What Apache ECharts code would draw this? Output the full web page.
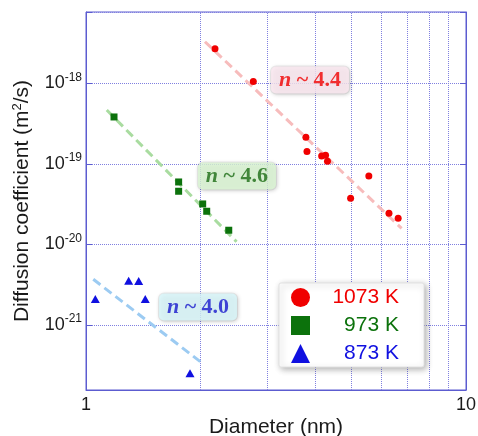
<!DOCTYPE html>
<html style="height: 100%">
<head>
<meta charset="utf-8">
<script src="https://cdn.jsdelivr.net/npm/echarts@6/dist/echarts.min.js"></script>
</head>
<body style="height: 100%; margin: 0; background: #fff">
<div id="container" style="width: 478px; height: 436px"></div>
<script type="text/javascript">
// measured points, diameter (nm) vs diffusion coefficient (m2/s)
var x1073 = [2.185, 2.756, 3.79, 3.815, 4.17, 4.27, 4.32, 5.55, 4.97, 6.27, 6.63];
var y1073 = [2.68e-18, 1.05e-18, 2.14e-19, 1.42e-19, 1.25e-19, 1.28e-19, 1.08e-19, 7.08e-20, 3.74e-20, 2.43e-20, 2.11e-20];
var x973 = [1.185, 1.753, 1.753, 2.028, 2.078, 2.375];
var y973 = [3.82e-19, 5.96e-20, 4.57e-20, 3.18e-20, 2.58e-20, 1.5e-20];
var x873 = [1.058, 1.295, 1.376, 1.432, 1.878];
var y873 = [2.1e-21, 3.55e-21, 3.52e-21, 2.1e-21, 2.51e-22];

// fitted power-law lines (end points)
var fit1073 = [[2.056, 3.28e-18], [6.77, 1.58e-20]];
var fit973 = [[1.134, 4.66e-19], [2.49, 1.08e-20]];
var fit873 = [[1.045, 3.69e-21], [2.036, 3.28e-22]];

var names = ['1073 K', '973 K', '873 K'];
var slopes = ['4.4', '4.6', '4.0'];
var minorX = [2, 3, 4, 5, 6, 7, 8, 9];

var yMin = Math.pow(10, -21.807);
var yMax = Math.pow(10, -17.115);

function zip(xs, ys) {
    return xs.map(function (x, i) { return [x, ys[i]]; });
}

var dom = document.getElementById('container');
var myChart = echarts.init(dom, null, {renderer: 'canvas'});

var frame = '#5c5cd0';
var grid = '#8080e0';
var sans = 'Liberation Sans';
var serif = 'Liberation Serif';

function fitSeries(data, color, extra) {
    return Object.assign({
        type: 'line',
        data: data,
        symbol: 'none',
        silent: true,
        z: 2,
        lineStyle: {color: color, width: 3, type: [9, 5]}
    }, extra || {});
}

function noteSeries(pos, text, color, bg) {
    return {
        type: 'scatter',
        data: [pos],
        symbolSize: 0,
        silent: true,
        z: 5,
        label: {
            show: true,
            position: 'inside',
            formatter: '{i|n}{r| ~ ' + text + '}',
            backgroundColor: bg,
            padding: [3, 8, 2, 8],
            borderRadius: 5,
            borderColor: 'rgba(0,0,0,0.08)',
            borderWidth: 1,
            shadowBlur: 4,
            shadowColor: 'rgba(0,0,0,0.25)',
            shadowOffsetX: 1,
            shadowOffsetY: 1,
            rich: {
                i: {fontFamily: serif, fontStyle: 'italic', fontWeight: 'bold', fontSize: 22, color: color, lineHeight: 22},
                r: {fontFamily: serif, fontWeight: 'bold', fontSize: 22, color: color, lineHeight: 22}
            }
        }
    };
}

var yAxisBase = {
    type: 'log',
    min: yMin,
    max: yMax,
    axisLine: {show: true, lineStyle: {color: frame, width: 1}},
    axisTick: {show: true, inside: true, length: 6, lineStyle: {color: frame}},
    minorTick: {show: false},
    minorSplitLine: {show: false}
};

option = {
    backgroundColor: '#fff',
    animation: false,
    grid: {
        left: 86, right: 12, top: 12, bottom: 46,
        containLabel: false,
        outerBoundsMode: 'none',
        show: true, borderColor: frame, borderWidth: 1
    },
    legend: {
        orient: 'vertical',
        left: 279,
        top: 283,
        padding: [4, 25, 3, 12],
        itemWidth: 19,
        itemHeight: 19,
        itemGap: 7,
        backgroundColor: '#fff',
        borderColor: '#e2e2e2',
        borderWidth: 1,
        borderRadius: 2,
        shadowBlur: 6,
        shadowColor: 'rgba(0,0,0,0.3)',
        shadowOffsetX: 2,
        shadowOffsetY: 2,
        formatter: function (name) { return '{a|' + name + '}'; },
        textStyle: {
            fontFamily: sans, fontSize: 21,
            rich: {a: {width: 84, align: 'right', fontFamily: sans, fontSize: 21}}
        },
        data: [
            {name: names[0], icon: 'circle', textStyle: {color: '#f00000'}},
            {name: names[1], icon: 'rect', textStyle: {color: '#0c720c'}},
            {name: names[2], icon: 'triangle', textStyle: {color: '#1010e0'}}
        ]
    },
    xAxis: {
        type: 'log',
        min: 1,
        max: 10,
        name: 'Diameter (nm)',
        nameLocation: 'middle',
        nameGap: 27,
        nameMoveOverlap: false,
        nameTextStyle: {fontFamily: sans, fontSize: 21, color: '#1a1a1a'},
        axisLine: {show: true, lineStyle: {color: frame, width: 1}},
        axisTick: {show: false},
        axisLabel: {
            fontFamily: sans, fontSize: 18, color: '#1a1a1a', margin: 6,
            formatter: function (v) { return String(Math.round(v)); }
        },
        splitLine: {show: false},
        minorTick: {show: false},
        minorSplitLine: {show: false}
    },
    yAxis: [
        Object.assign({}, yAxisBase, {
            position: 'left',
            name: 'Diffusion coefficient (m{s|2}/s)',
            nameLocation: 'middle',
            nameGap: 52,
            nameMoveOverlap: false,
            nameTextStyle: {
                fontFamily: sans, fontSize: 21, color: '#1a1a1a',
                rich: {s: {fontFamily: sans, fontSize: 13, color: '#1a1a1a', padding: [0, 0, 10, 0]}}
            },
            axisLabel: {
                margin: 4,
                formatter: function (v) {
                    var l = Math.log10(v);
                    if (Math.abs(l - Math.round(l)) > 0.01) return '';
                    return '{b|10}{s|' + Math.round(l) + '}';
                },
                rich: {
                    b: {fontFamily: sans, fontSize: 18, color: '#1a1a1a', lineHeight: 18},
                    s: {fontFamily: sans, fontSize: 12, color: '#1a1a1a', lineHeight: 12, padding: [0, 0, 12, 0]}
                }
            },
            splitLine: {show: true, lineStyle: {color: grid, width: 1, type: 'dotted'}}
        }),
        Object.assign({}, yAxisBase, {
            position: 'right',
            axisLabel: {show: false},
            splitLine: {show: false}
        })
    ],
    series: [
        fitSeries(fit1073, '#f7bcbc', {
            markLine: {
                silent: true,
                symbol: 'none',
                label: {show: false},
                z: 1,
                lineStyle: {color: grid, width: 1, type: 'dotted'},
                data: minorX.map(function (v) { return {xAxis: v}; })
            }
        }),
        fitSeries(fit973, '#a9dca0'),
        fitSeries(fit873, '#9ccbf2'),
        {
            name: names[0], type: 'scatter', symbol: 'circle', symbolSize: 7, z: 3,
            itemStyle: {color: '#f00000', opacity: 1}, data: zip(x1073, y1073)
        },
        {
            name: names[1], type: 'scatter', symbol: 'rect', symbolSize: 7, z: 3,
            itemStyle: {color: '#0c720c', opacity: 1}, data: zip(x973, y973)
        },
        {
            name: names[2], type: 'scatter', symbol: 'triangle', symbolSize: [9, 8], z: 3,
            itemStyle: {color: '#1010e0', opacity: 1}, data: zip(x873, y873)
        },
        noteSeries([3.886, 1.1e-18], slopes[0], '#f00000', '#fde8f1'),
        noteSeries([2.496, 7.08e-20], slopes[1], '#1c6b14', '#dbf6d3'),
        noteSeries([1.971, 1.67e-21], slopes[2], '#1818cc', '#d8f7fb')
    ]
};

if (option && typeof option === 'object') {
    myChart.setOption(option, true);
}
</script>
</body>
</html>
